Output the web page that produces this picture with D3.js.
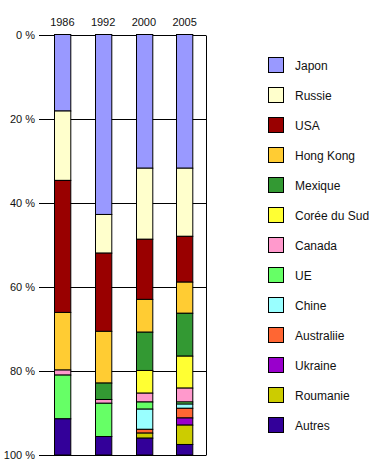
<!DOCTYPE html>
<html><head><meta charset="utf-8">
<script src="https://cdn.jsdelivr.net/npm/d3@7"></script>
<style>body{margin:0;background:#fff;} text{font-family:"Liberation Sans",Arial,sans-serif;}</style>
</head><body>
<svg id="c" width="392" height="475"></svg>
<script>
const years = ["1986","1992","2000","2005"];
const countries = ["Japon","Russie","USA","Hong Kong","Mexique","Corée du Sud","Canada","UE","Chine","Australiie","Ukraine","Roumanie","Autres"];
const colors = ["#9999FF","#FFFFCC","#990000","#FFCC33","#339933","#FFFF33","#FF99CC","#66FF66","#99FFFF","#FF6633","#9900CC","#CCCC00","#330099"];
const v1986 = [18.2,16.5,31.4,13.7,0,0,1.2,10.4,0,0,0,0,8.6];
const v1992 = [42.8,9.2,18.6,12.3,3.9,0,0.9,7.9,0,0,0,0,4.4];
const v2000 = [31.8,16.9,14.3,7.8,9.1,5.4,2.1,1.7,4.8,0.9,0,1.2,4.0];
const v2005 = [31.8,16.2,10.9,7.4,10.2,7.6,3.3,0.5,1.0,2.3,1.7,4.6,2.5];
const yTicks = [0,20,40,60,80,100];

const series = [v1986,v1992,v2000,v2005];
const data = years.map((y,i)=>{const o={year:y}; countries.forEach((c,j)=>o[c]=series[i][j]); return o;});
const stack = d3.stack().keys(countries)(data);

const svg = d3.select("#c");
const x = d3.scaleBand().domain(years).range([42,205]).paddingInner(0.6).paddingOuter(0.3);
const y = d3.scaleLinear().domain([0,100]).range([34.5,455]);
const color = d3.scaleOrdinal().domain(countries).range(colors);

svg.append("g").selectAll("line").data(yTicks).join("line")
  .attr("x1",39).attr("x2",206).attr("y1",d=>Math.round(y(d))+0.5).attr("y2",d=>Math.round(y(d))+0.5)
  .attr("stroke","#000").attr("stroke-width",1);
svg.append("line").attr("x1",206.5).attr("x2",206.5).attr("y1",Math.round(y(0))+0.5).attr("y2",Math.round(y(100))+0.5).attr("stroke","#000");

svg.append("g").selectAll("text").data(yTicks).join("text")
  .attr("x",35).attr("y",d=>y(d)+4).attr("text-anchor","end").attr("font-size",11).attr("fill","#111")
  .text(d=>d+" %");

svg.append("g").selectAll("g").data(stack).join("g").attr("fill",d=>color(d.key))
  .selectAll("rect").data(d=>d.filter(s=>s[1]-s[0]>0)).join("rect")
  .attr("x",d=>Math.round(x(d.data.year))+0.5).attr("width",x.bandwidth())
  .attr("y",d=>y(d[0])).attr("height",d=>y(d[1])-y(d[0]))
  .attr("stroke","#000").attr("stroke-width",1);

svg.append("g").selectAll("text").data(years).join("text")
  .attr("x",d=>x(d)+x.bandwidth()/2).attr("y",26).attr("text-anchor","middle").attr("font-size",11).attr("fill","#111")
  .text(d=>d);

const ly = d3.scalePoint().domain(countries).range([65,425]);
const lg = svg.append("g").selectAll("g").data(countries).join("g");
lg.append("rect").attr("x",268.5).attr("y",d=>ly(d)-8+0.5).attr("width",15).attr("height",15)
  .attr("fill",d=>color(d)).attr("stroke","#000");
lg.append("text").attr("x",295).attr("y",d=>ly(d)+4.5).attr("font-size",12).attr("fill","#111").text(d=>d);
</script>
</body></html>
